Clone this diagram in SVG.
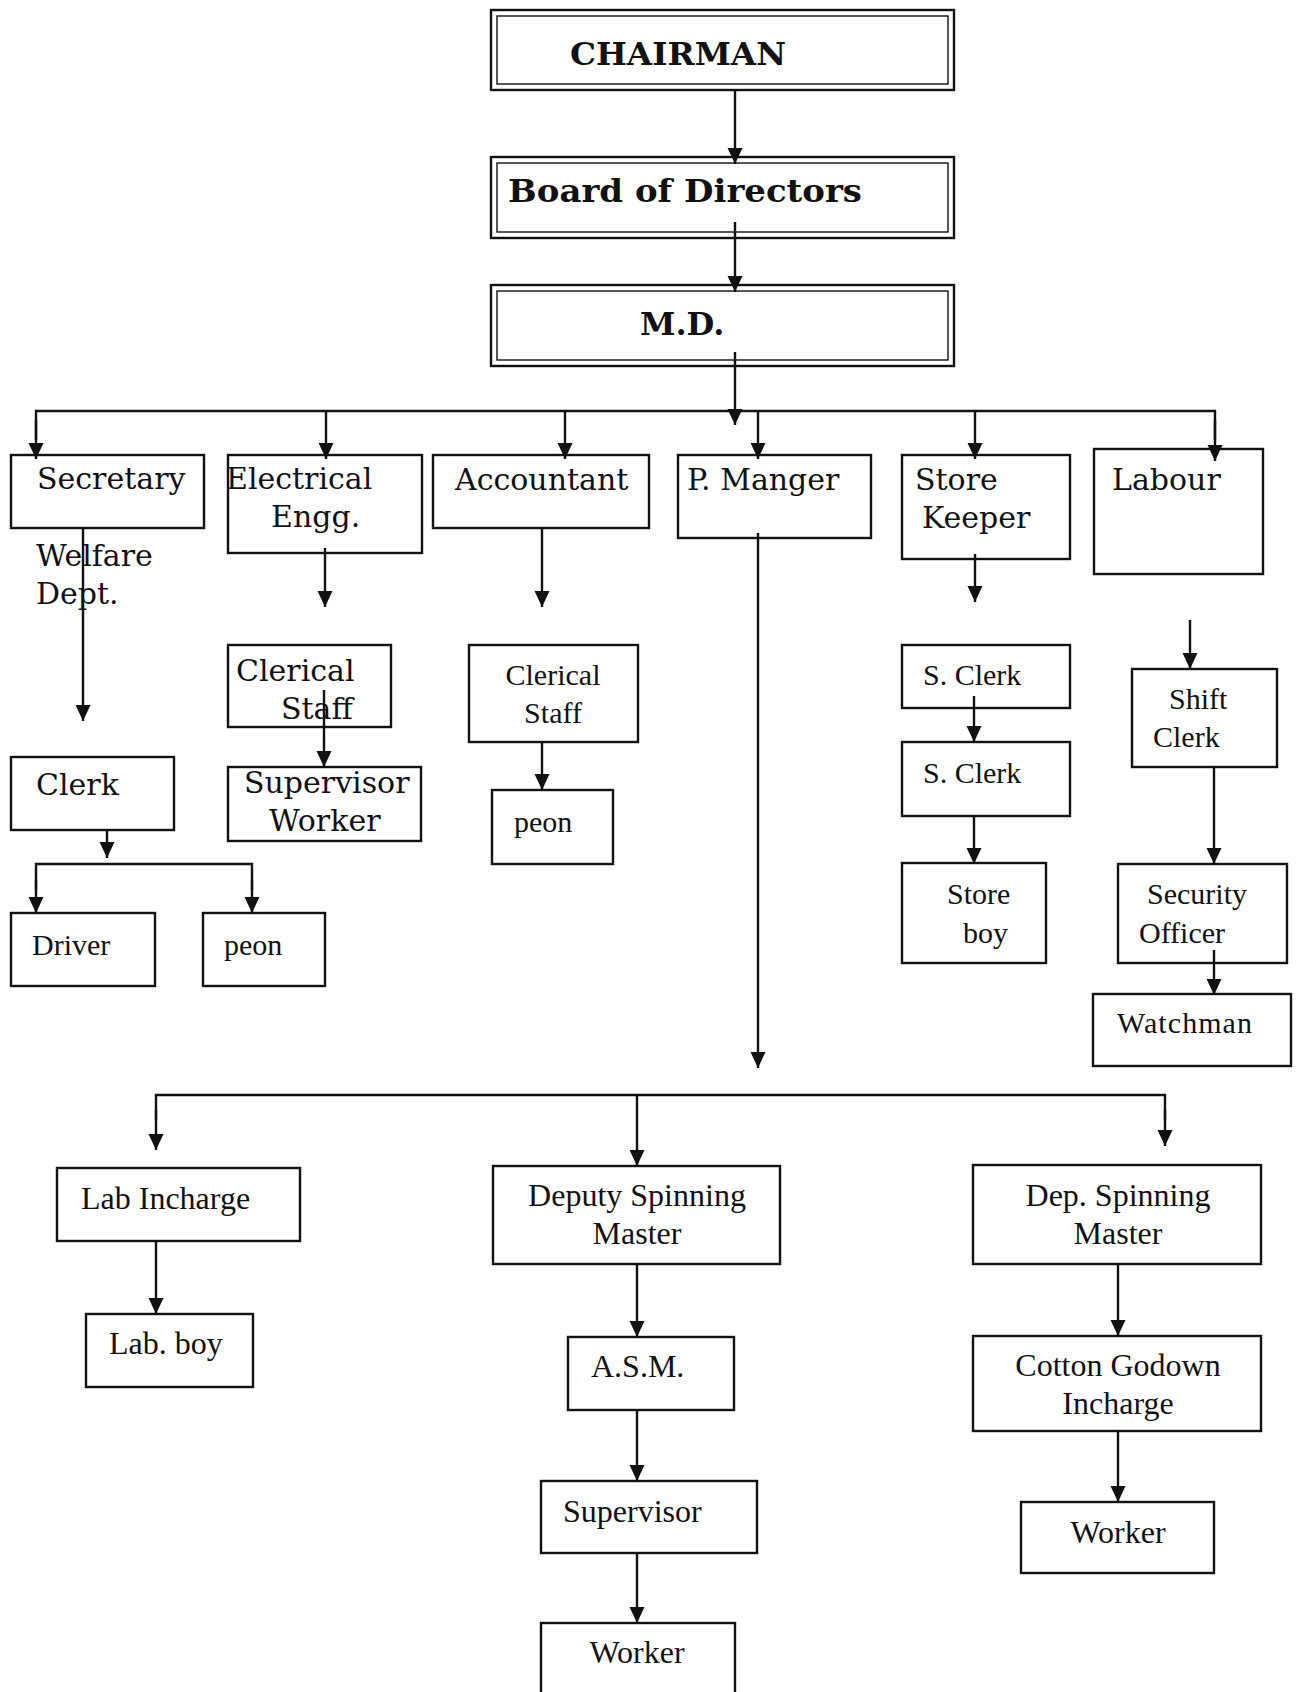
<svg xmlns="http://www.w3.org/2000/svg" width="1296" height="1692" viewBox="0 0 1296 1692">
<style>
.b{fill:#fff;stroke:#111;stroke-width:2.4}
.bi{fill:none;stroke:#111;stroke-width:1.4}
.hd{font-family:"DejaVu Serif",serif;font-weight:bold;font-size:32px;fill:#111}
.bk{font-family:"DejaVu Serif",serif;font-size:30px;fill:#111}
.tm{font-family:"Liberation Serif",serif;font-size:30px;fill:#111}
.tb{font-family:"Liberation Serif",serif;font-size:32px;fill:#111}
.c{text-anchor:middle}
.ln{fill:none;stroke:#111;stroke-width:2.4}
.ar{fill:none;stroke:#111;stroke-width:2.4;marker-end:url(#ah)}
</style>
<defs>
<marker id="ah" markerUnits="userSpaceOnUse" markerWidth="16" markerHeight="16" refX="16" refY="8" orient="auto">
<path d="M0,0.5 L16,8 L0,15.5 z" fill="#111"/>
</marker>
</defs>
<rect width="1296" height="1692" fill="#fff"/>

<g id="chairman"><rect class="b" x="491" y="10" width="463" height="80"/><rect class="bi" x="497" y="16" width="451" height="68"/><text class="hd" x="570" y="65" textLength="216" lengthAdjust="spacingAndGlyphs">CHAIRMAN</text></g>
<g id="board"><rect class="b" x="491" y="157" width="463" height="81"/><rect class="bi" x="497" y="163" width="451" height="69"/><text class="hd" x="508" y="202" textLength="354" lengthAdjust="spacingAndGlyphs">Board of Directors</text></g>
<g id="md"><rect class="b" x="491" y="285" width="463" height="81"/><rect class="bi" x="497" y="291" width="451" height="69"/><text class="hd" x="640" y="335">M.D.</text></g>

<g id="secretary"><rect class="b" x="11" y="455" width="193" height="73"/><text class="bk" x="37" y="489">Secretary</text></g>
<g id="welfare"><text class="bk" x="36" y="566">Welfare</text><text class="bk" x="36" y="604">Dept.</text></g>
<g id="electrical"><rect class="b" x="228" y="455" width="194" height="98"/><text class="bk" x="226" y="489">Electrical</text><text class="bk" x="271" y="527">Engg.</text></g>
<g id="accountant"><rect class="b" x="433" y="455" width="216" height="73"/><text class="bk" x="455" y="490">Accountant</text></g>
<g id="pmanager"><rect class="b" x="678" y="455" width="193" height="83"/><text class="bk" x="687" y="490">P. Manger</text></g>
<g id="storekeeper"><rect class="b" x="902" y="455" width="168" height="104"/><text class="bk" x="915" y="490">Store</text><text class="bk" x="922" y="528">Keeper</text></g>
<g id="labour"><rect class="b" x="1094" y="449" width="169" height="125"/><text class="bk" x="1112" y="490">Labour</text></g>

<g id="clerk"><rect class="b" x="11" y="757" width="163" height="73"/><text class="bk" x="36" y="795">Clerk</text></g>
<g id="driver"><rect class="b" x="11" y="913" width="144" height="73"/><text class="tm" x="32" y="955">Driver</text></g>
<g id="peon1"><rect class="b" x="203" y="913" width="122" height="73"/><text class="tm" x="224" y="955">peon</text></g>

<g id="elecclerical"><rect class="b" x="228" y="645" width="163" height="82"/><text class="bk" x="236" y="681">Clerical</text><text class="bk" x="281" y="719">Staff</text></g>
<g id="supworker"><rect class="b" x="228" y="767" width="193" height="74"/><text class="bk" x="244" y="793">Supervisor</text><text class="bk" x="269" y="831">Worker</text></g>

<g id="acctclerical"><rect class="b" x="469" y="645" width="169" height="97"/><text class="tm c" x="553" y="685">Clerical</text><text class="tm c" x="553" y="723">Staff</text></g>
<g id="peon2"><rect class="b" x="492" y="790" width="121" height="74"/><text class="tm" x="514" y="832">peon</text></g>

<g id="sclerk1"><rect class="b" x="902" y="645" width="168" height="63"/><text class="tm" x="923" y="685">S. Clerk</text></g>
<g id="sclerk2"><rect class="b" x="902" y="742" width="168" height="74"/><text class="tm" x="923" y="783">S. Clerk</text></g>
<g id="storeboy"><rect class="b" x="902" y="863" width="144" height="100"/><text class="tm" x="947" y="904">Store</text><text class="tm" x="963" y="943">boy</text></g>

<g id="shiftclerk"><rect class="b" x="1132" y="669" width="145" height="98"/><text class="tm" x="1169" y="709">Shift</text><text class="tm" x="1153" y="747">Clerk</text></g>
<g id="security"><rect class="b" x="1118" y="864" width="169" height="99"/><text class="tm" x="1147" y="904">Security</text><text class="tm" x="1139" y="943">Officer</text></g>
<g id="watchman"><rect class="b" x="1093" y="994" width="198" height="72"/><text class="tm" x="1117" y="1033" textLength="135">Watchman</text></g>

<g id="labincharge"><rect class="b" x="57" y="1168" width="243" height="73"/><text class="tb" x="81" y="1209">Lab Incharge</text></g>
<g id="labboy"><rect class="b" x="86" y="1314" width="167" height="73"/><text class="tb" x="109" y="1354">Lab. boy</text></g>
<g id="deputysm"><rect class="b" x="493" y="1166" width="287" height="98"/><text class="tb c" x="637" y="1206">Deputy Spinning</text><text class="tb c" x="637" y="1244">Master</text></g>
<g id="asm"><rect class="b" x="568" y="1337" width="166" height="73"/><text class="tb" x="591" y="1377">A.S.M.</text></g>
<g id="supervisor"><rect class="b" x="541" y="1481" width="216" height="72"/><text class="tb" x="563" y="1522">Supervisor</text></g>
<g id="worker1"><rect class="b" x="541" y="1623" width="194" height="80"/><text class="tb c" x="637" y="1663">Worker</text></g>
<g id="depsm"><rect class="b" x="973" y="1165" width="288" height="99"/><text class="tb c" x="1118" y="1206">Dep. Spinning</text><text class="tb c" x="1118" y="1244">Master</text></g>
<g id="cotton"><rect class="b" x="973" y="1336" width="288" height="95"/><text class="tb c" x="1118" y="1376">Cotton Godown</text><text class="tb c" x="1118" y="1414">Incharge</text></g>
<g id="worker2"><rect class="b" x="1021" y="1502" width="193" height="71"/><text class="tb c" x="1118" y="1543">Worker</text></g>

<g id="connectors">
<path class="ar" d="M735,90 V164"/>
<path class="ar" d="M735,222 V292"/>
<path class="ar" d="M735,352 V425"/>
<path class="ln" d="M36,440 V411 H1215 V440"/>
<path class="ar" d="M36,420 V459"/>
<path class="ar" d="M326,411 V459"/>
<path class="ar" d="M565,411 V459"/>
<path class="ar" d="M758,411 V459"/>
<path class="ar" d="M975,411 V459"/>
<path class="ar" d="M1215,420 V461"/>
<path class="ar" d="M83,528 V721"/>
<path class="ar" d="M325,548 V607"/>
<path class="ar" d="M324,690 V767"/>
<path class="ar" d="M107,830 V858"/>
<path class="ln" d="M36,890 V864 H252 V890"/>
<path class="ar" d="M36,880 V913"/>
<path class="ar" d="M252,880 V913"/>
<path class="ar" d="M542,528 V607"/>
<path class="ar" d="M542,742 V790"/>
<path class="ar" d="M758,533 V1068"/>
<path class="ln" d="M156,1120 V1095 H1165 V1120"/>
<path class="ar" d="M156,1110 V1150"/>
<path class="ar" d="M637,1095 V1166"/>
<path class="ar" d="M1165,1110 V1146"/>
<path class="ar" d="M156,1241 V1314"/>
<path class="ar" d="M637,1264 V1337"/>
<path class="ar" d="M637,1410 V1481"/>
<path class="ar" d="M637,1553 V1623"/>
<path class="ar" d="M1118,1264 V1336"/>
<path class="ar" d="M1118,1431 V1502"/>
<path class="ar" d="M975,554 V602"/>
<path class="ar" d="M974,696 V742"/>
<path class="ar" d="M974,816 V864"/>
<path class="ar" d="M1190,620 V669"/>
<path class="ar" d="M1214,767 V864"/>
<path class="ar" d="M1214,950 V995"/>
</g>
</svg>
